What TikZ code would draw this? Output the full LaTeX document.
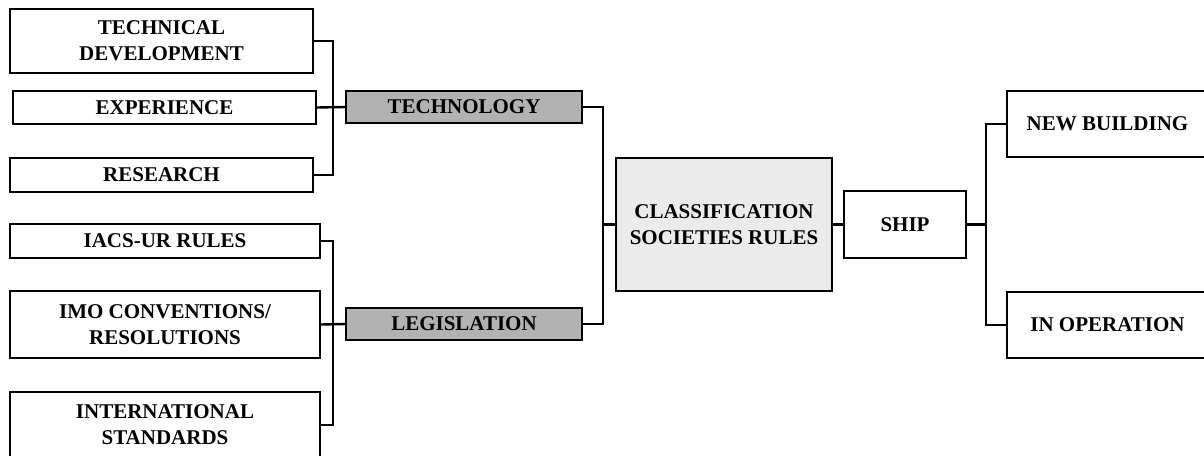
\documentclass[tikz,border=0pt]{standalone}
\usepackage{fontspec}
\setmainfont{Liberation Serif}
\definecolor{groupgray}{gray}{0.70}
\definecolor{rulegray}{gray}{0.92}
\begin{document}
\begin{tikzpicture}[x=1pt,y=-1pt,
    box/.style={draw,line width=1.5pt,inner sep=0pt,align=center,
        font=\fontsize{21}{26}\selectfont\bfseries},
    groupbox/.style={box,fill=groupgray},
    rulebox/.style={box,fill=rulegray},
    wire/.style={line width=2.4pt}]

    \useasboundingbox (0,0) rectangle (1204,455);
    \clip (0,0) rectangle (1204,455);

    % Sources of technology
    \node[box,minimum width=303pt,minimum height=64pt] (techdev) at (161.5,41) {TECHNICAL\\DEVELOPMENT};
    \node[box,minimum width=303pt,minimum height=33pt] (exper) at (164.5,107.5) {EXPERIENCE};
    \node[box,minimum width=303pt,minimum height=34pt] (research) at (161.5,175) {RESEARCH};

    % Sources of legislation
    \node[box,minimum width=310pt,minimum height=34pt] (iacs) at (165,241) {IACS-UR RULES};
    \node[box,minimum width=310pt,minimum height=67pt] (imo) at (165,324.5) {IMO CONVENTIONS/\\RESOLUTIONS};
    \node[box,minimum width=310pt,minimum height=66pt] (intl) at (165,425) {INTERNATIONAL\\STANDARDS};

    % Groups
    \node[groupbox,minimum width=236pt,minimum height=32pt] (techno) at (464,107) {TECHNOLOGY};
    \node[groupbox,minimum width=236pt,minimum height=32pt] (legis) at (464,324) {LEGISLATION};

    % Rules and ship
    \node[rulebox,minimum width=216pt,minimum height=133pt] (csr) at (724,224.5) {CLASSIFICATION\\SOCIETIES RULES};
    \node[box,minimum width=122pt,minimum height=67pt] (ship) at (905,224.5) {SHIP};
    \node[box,minimum width=201pt,minimum height=66pt] (newbld) at (1107.5,124) {NEW BUILDING};
    \node[box,minimum width=201pt,minimum height=66pt] (inop) at (1107.5,325) {IN OPERATION};

    % Bus lines
    \coordinate (tbus) at (333,0);
    \coordinate (lbus) at (333,0);
    \coordinate (mbus) at (603,0);
    \coordinate (sbus) at (986,0);

    \draw[wire] (techdev.east) -| (tbus |- research.east) -- (research.east);
    \draw[wire] (exper.east) -- (techno.west);

    \draw[wire] (iacs.east) -| (lbus |- intl.east) -- (intl.east);
    \draw[wire] (imo.east) -- (legis.west);

    \draw[wire] (techno.east) -| (mbus |- legis.east) -- (legis.east);
    \draw[wire] (mbus |- csr.west) -- (csr.west);

    \draw[wire] (csr.east) -- (ship.west);

    \draw[wire] (newbld.west) -| (sbus |- inop.west) -- (inop.west);
    \draw[wire] (ship.east) -- (sbus |- ship.east);

\end{tikzpicture}
\end{document}
